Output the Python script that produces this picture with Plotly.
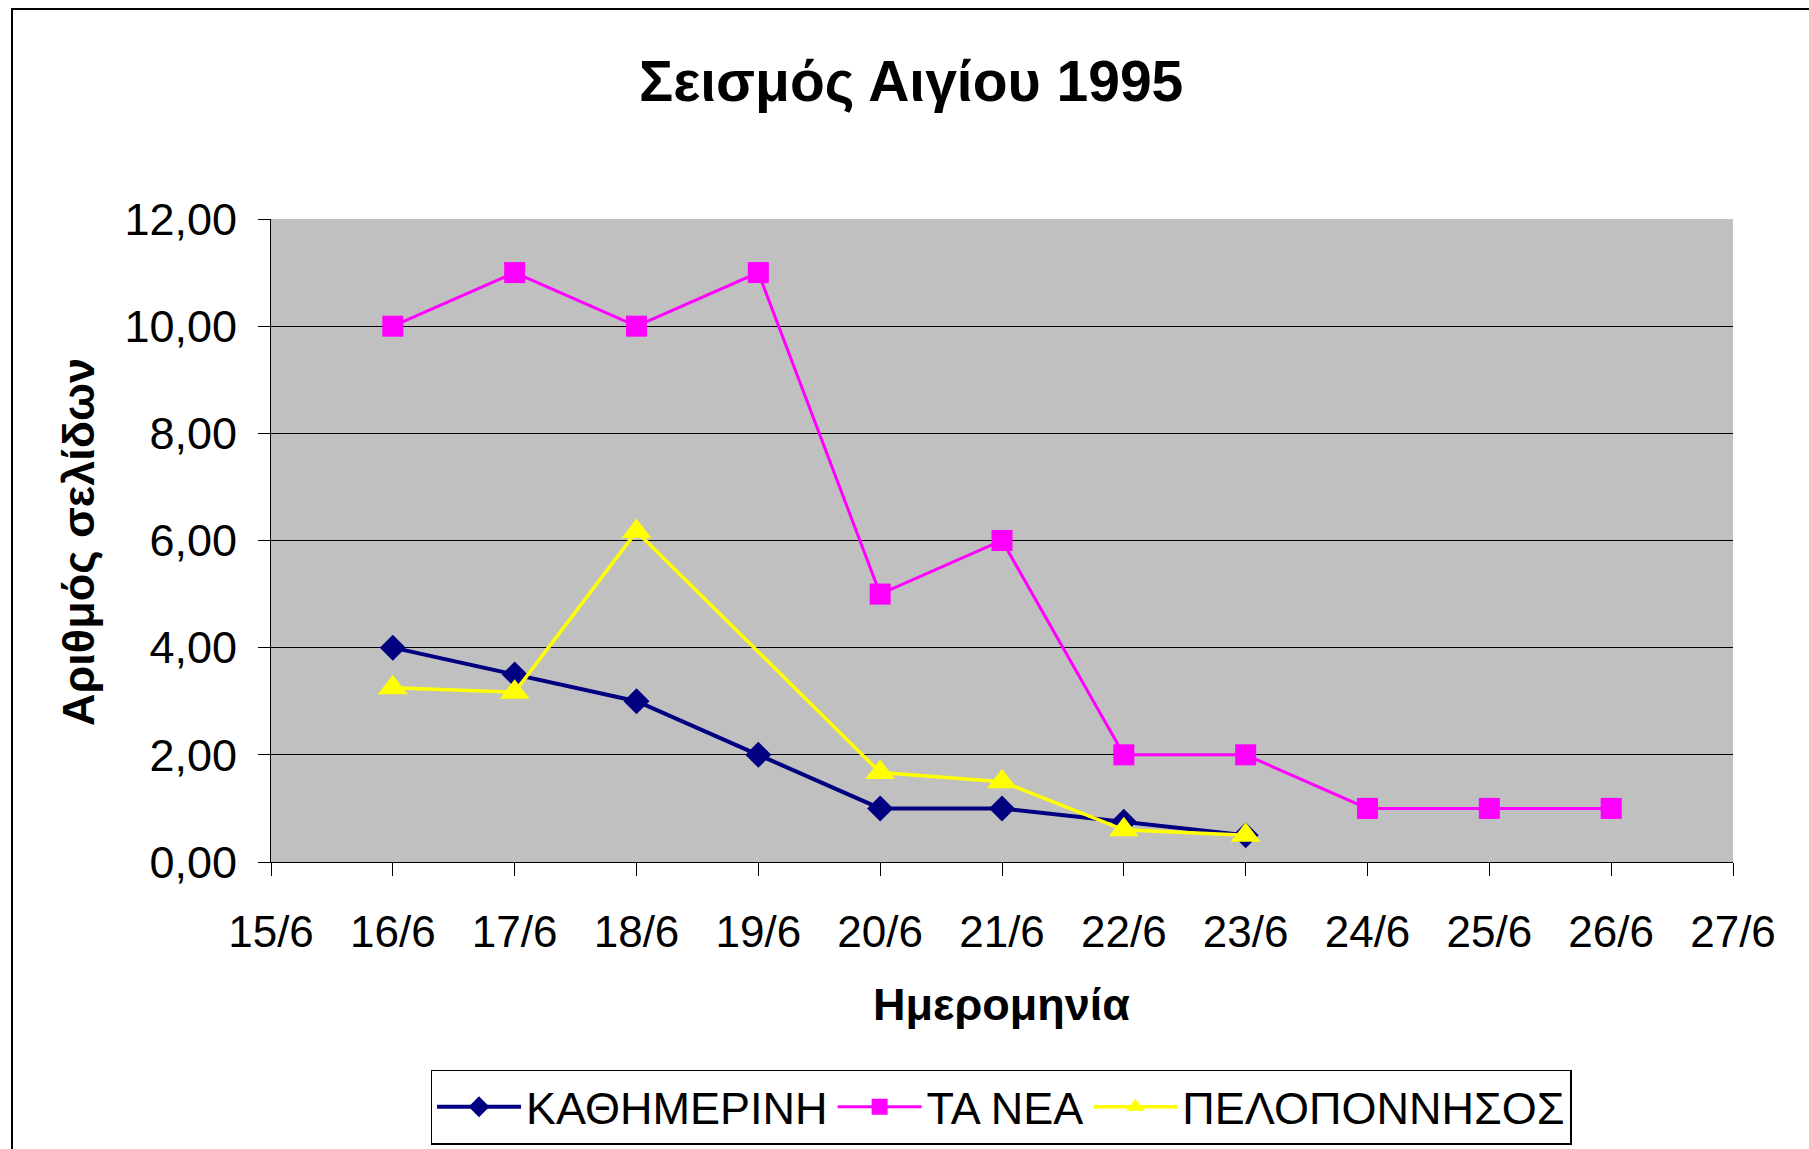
import plotly.graph_objects as go

# Days of June 1995 (numeric position on the x axis) and their labels
days = [15, 16, 17, 18, 19, 20, 21, 22, 23, 24, 25, 26, 27]
day_labels = ["15/6", "16/6", "17/6", "18/6", "19/6", "20/6", "21/6",
              "22/6", "23/6", "24/6", "25/6", "26/6", "27/6"]

# Pages per newspaper per day
kath_days = [16, 17, 18, 19, 20, 21, 22, 23]
kath_pages = [4.0, 3.5, 3.0, 2.0, 1.0, 1.0, 0.75, 0.5]

nea_days = [16, 17, 18, 19, 20, 21, 22, 23, 24, 25, 26]
nea_pages = [10.0, 11.0, 10.0, 11.0, 5.0, 6.0, 2.0, 2.0, 1.0, 1.0, 1.0]

pel_days = [16, 17, 18, 19, 20, 21, 22, 23]
pel_pages = [3.25, 3.17, 6.17, None, 1.67, 1.5, 0.6, 0.5]

y_ticks = [0, 2, 4, 6, 8, 10, 12]

FONT = "Arial, Liberation Sans, sans-serif"
W, H = 1809, 1149
L, R, T, B = 271, 1733, 219, 862  # plot area in pixels


def px(x):
    return (x - L) / (R - L)


def py(y):
    return (B - y) / (B - T)


fig = go.Figure()
fig.add_trace(go.Scatter(
    x=kath_days, y=kath_pages, name="ΚΑΘΗΜΕΡΙΝΗ", mode="lines+markers",
    line=dict(color="#000080", width=4),
    marker=dict(symbol="diamond", size=20, color="#000080"),
))
fig.add_trace(go.Scatter(
    x=nea_days, y=nea_pages, name="ΤΑ ΝΕΑ", mode="lines+markers",
    line=dict(color="#FF00FF", width=3),
    marker=dict(symbol="square", size=21, color="#FF00FF"),
))
fig.add_trace(go.Scatter(
    x=pel_days, y=pel_pages, name="ΠΕΛΟΠΟΝΝΗΣΟΣ", mode="lines+markers",
    connectgaps=True,
    line=dict(color="#FFFF00", width=3.5),
    marker=dict(symbol="triangle-up", size=26, color="#FFFF00"),
))

fig.update_layout(
    width=W, height=H,
    margin=dict(l=L, r=W - R, t=T, b=H - B, autoexpand=False),
    paper_bgcolor="white",
    plot_bgcolor="#C0C0C0",
    separators=",.",
    font=dict(family=FONT, color="black"),
    showlegend=True,
    hovermode=False,
    legend=dict(
        orientation="h",
        x=px(1001), xanchor="center",
        y=py(1107), yanchor="middle",
        font=dict(size=45, family=FONT),
        bordercolor="black", borderwidth=1.5,
        bgcolor="white",
        itemwidth=84,
        tracegroupgap=0,
    ),
    xaxis=dict(
        range=[15, 27],
        tickmode="array", tickvals=days, ticktext=day_labels,
        showgrid=False, zeroline=False,
        showline=True, linecolor="black", linewidth=1,
        ticks="outside", ticklen=13, tickcolor="black", tickwidth=1,
        tickfont=dict(size=44, family=FONT),
        ticklabelstandoff=18,
    ),
    yaxis=dict(
        range=[0, 12],
        tickmode="array", tickvals=y_ticks,
        tickformat=".2f",
        showgrid=True, gridcolor="black", gridwidth=1,
        zeroline=False,
        showline=True, linecolor="black", linewidth=1,
        ticks="outside", ticklen=12, tickcolor="black", tickwidth=1,
        tickfont=dict(size=45, family=FONT),
        ticklabelstandoff=12,
    ),
    annotations=[
        dict(text="<b>Σεισμός Αιγίου 1995</b>", xref="paper", yref="paper",
             x=px(911), y=py(81), xanchor="center", yanchor="middle",
             showarrow=False, font=dict(size=57, family=FONT)),
        dict(text="<b>Ημερομηνία</b>", xref="paper", yref="paper",
             x=px(1001), y=py(1004), xanchor="center", yanchor="middle",
             showarrow=False, font=dict(size=45, family=FONT)),
        dict(text="<b>Αριθμός σελίδων</b>", xref="paper", yref="paper",
             x=px(78), y=py(542), xanchor="center", yanchor="middle",
             textangle=-90, showarrow=False, font=dict(size=45, family=FONT)),
    ],
    shapes=[
        # chart area frame
        dict(type="rect", xref="paper", yref="paper",
             x0=px(12), x1=px(1830), y0=py(1180), y1=py(9),
             line=dict(color="black", width=2), fillcolor="rgba(0,0,0,0)",
             layer="below"),
    ],
)

fig.write_html("out.html", config={"displayModeBar": False})
